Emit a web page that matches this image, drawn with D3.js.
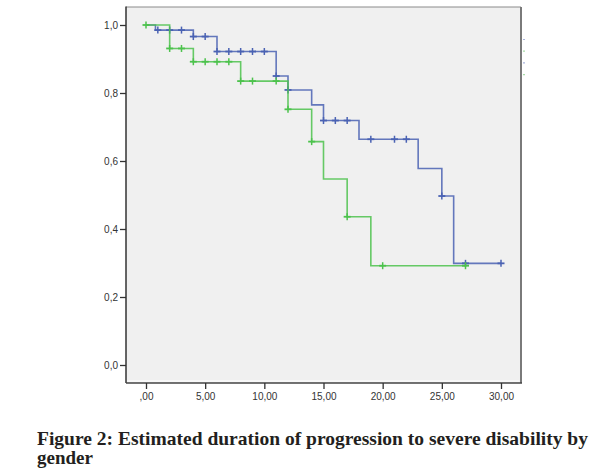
<!DOCTYPE html>
<html>
<head>
<meta charset="utf-8">
<script src="https://cdn.jsdelivr.net/npm/d3@7"></script>
<style>
  html, body { margin: 0; padding: 0; background: #ffffff; }
  svg { display: block; }
</style>
</head>
<body>
<svg id="chart" width="595" height="475"></svg>
<script>
// ---- Data ----
const yTickValues = [0, 0.2, 0.4, 0.6, 0.8, 1.0];
const yTickLabels = ["0,0", "0,2", "0,4", "0,6", "0,8", "1,0"];
const xTickValues = [0, 5, 10, 15, 20, 25, 30];
const xTickLabels = [",00", "5,00", "10,00", "15,00", "20,00", "25,00", "30,00"];

const blueTimes = [0, 0.8, 4, 6, 11, 12, 14, 15, 18, 23, 25, 26, 30];
const blueSurv  = [1.0, 0.985, 0.966, 0.922, 0.85, 0.809, 0.765, 0.719, 0.664, 0.578, 0.497, 0.299, 0.299];
const blueCensor = [1, 2, 3, 4, 5, 6, 7, 8, 9, 10, 11, 12, 15, 16, 17, 19, 21, 22, 25, 27, 30];

const greenTimes = [0, 2, 4, 8, 12, 14, 15, 17, 19, 27];
const greenSurv  = [1.0, 0.931, 0.892, 0.835, 0.752, 0.657, 0.547, 0.436, 0.292, 0.292];
const greenCensor = [0, 2, 3, 4, 5, 6, 7, 8, 9, 11, 12, 14, 17, 20, 27];

const captionLines = ["Figure 2: Estimated duration of progression to severe disability by", "gender"];

// ---- Layout ----
const svg = d3.select("#chart");
const frame = { left: 126, right: 521, top: 7, bottom: 383 };
const x = d3.scaleLinear().domain([0, 30]).range([146, 501]);
const y = d3.scaleLinear().domain([0, 1]).range([365, 25]);

// plot background
svg.append("rect")
  .attr("x", frame.left).attr("y", frame.top)
  .attr("width", frame.right - frame.left).attr("height", frame.bottom - frame.top)
  .attr("fill", "#f0f0f0");
// inner white line near bottom
svg.append("line").attr("x1", frame.left).attr("x2", frame.right - 1.5)
  .attr("y1", frame.bottom - 2).attr("y2", frame.bottom - 2)
  .attr("stroke", "#ffffff").attr("stroke-width", 1);
// borders
svg.append("line").attr("x1", frame.left).attr("x2", frame.right)
  .attr("y1", frame.top).attr("y2", frame.top)
  .attr("stroke", "#8a8a8a").attr("stroke-width", 1);
svg.append("line").attr("x1", frame.right).attr("x2", frame.right)
  .attr("y1", frame.top).attr("y2", frame.bottom)
  .attr("stroke", "#7a7a7a").attr("stroke-width", 2);
svg.append("line").attr("x1", frame.left).attr("x2", frame.left)
  .attr("y1", frame.top - 0.5).attr("y2", frame.bottom)
  .attr("stroke", "#333333").attr("stroke-width", 1.5);
svg.append("line").attr("x1", frame.left).attr("x2", frame.right + 1)
  .attr("y1", frame.bottom).attr("y2", frame.bottom)
  .attr("stroke", "#444444").attr("stroke-width", 1.5);

// axes
const yAxis = d3.axisLeft(y).tickValues(yTickValues)
  .tickFormat((d, i) => yTickLabels[i]).tickSize(6).tickPadding(2);
const gy = svg.append("g").attr("transform", `translate(${frame.left},0)`).call(yAxis);
gy.select(".domain").remove();

const xAxis = d3.axisBottom(x).tickValues(xTickValues)
  .tickFormat((d, i) => xTickLabels[i]).tickSize(6).tickPadding(4);
const gx = svg.append("g").attr("transform", `translate(0,${frame.bottom})`).call(xAxis);
gx.select(".domain").remove();

[gx, gy].forEach(g => {
  g.selectAll(".tick line").attr("stroke", "#333").attr("stroke-width", 1.3);
  g.selectAll(".tick text").attr("fill", "#333")
    .style("font-family", "'Liberation Sans', Arial, sans-serif").style("font-size", "10px");
});

// survival curves
const line = d3.line().x(d => x(d[0])).y(d => y(d[1])).curve(d3.curveStepAfter);
function stepAt(times, surv, t) {
  let v = surv[0];
  for (let i = 0; i < times.length; i++) if (times[i] <= t) v = surv[i];
  return v;
}
function drawSeries(times, surv, censor, color) {
  const pts = times.map((t, i) => [t, surv[i]]);
  svg.append("path").datum(pts).attr("d", line)
    .attr("fill", "none").attr("stroke", color).attr("stroke-width", 1.6)
    .attr("stroke-opacity", 0.85);
  const g = svg.append("g");
  censor.forEach(t => {
    const cx = x(t), cy = y(stepAt(times, surv, t));
    g.append("line").attr("x1", cx).attr("x2", cx).attr("y1", cy - 3.5).attr("y2", cy + 3.5)
      .attr("stroke", color).attr("stroke-width", 1.5);
    g.append("line").attr("x1", cx - 3.5).attr("x2", cx + 3.5).attr("y1", cy).attr("y2", cy)
      .attr("stroke", color).attr("stroke-width", 1.8);
  });
}
drawSeries(blueTimes, blueSurv, blueCensor, "#4a62b3");
drawSeries(greenTimes, greenSurv, greenCensor, "#4cc24c");

// clipped legend remnants on the right
const legendColors = ["#a9b4dc", "#a8dca8", "#a9b4dc", "#a8dca8"];
legendColors.forEach((c, i) => {
  svg.append("line").attr("x1", 523).attr("x2", 525)
    .attr("y1", 39.5 + i * 11.7).attr("y2", 39.5 + i * 11.7)
    .attr("stroke", c).attr("stroke-width", 1.2);
});

// caption
const cap = svg.append("text")
  .attr("x", 37).attr("y", 445)
  .attr("fill", "#231f20")
  .style("font-family", "'Liberation Serif', 'Times New Roman', serif")
  .style("font-weight", "bold").style("font-size", "19px");
captionLines.forEach((t, i) => {
  const ts = cap.append("tspan").attr("x", 37).attr("dy", i === 0 ? 0 : 19).text(t);
  if (i === 0) ts.attr("textLength", 551).attr("lengthAdjust", "spacingAndGlyphs");
});
</script>
</body>
</html>
